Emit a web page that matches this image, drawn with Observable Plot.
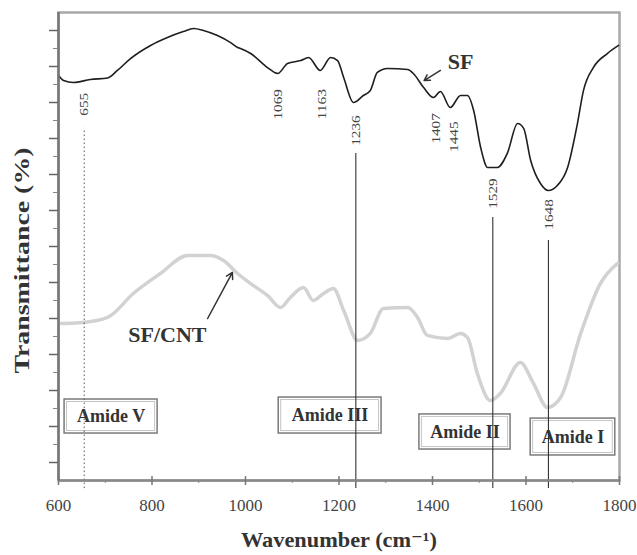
<!DOCTYPE html>
<html>
<head>
<meta charset="utf-8">
<script src="https://cdn.jsdelivr.net/npm/d3@7"></script>
<script src="https://cdn.jsdelivr.net/npm/@observablehq/plot@0.6"></script>
<style>
  html, body { margin: 0; padding: 0; background: #fff; }
</style>
</head>
<body>
<div id="chart"></div>
<script>
// ---- Data ----
// SF spectrum (black)
const sfWavenumber = [600, 611, 632, 668, 705, 726, 754, 797, 833, 867, 889, 910, 940, 968, 983, 989, 1011, 1017, 1047, 1069, 1090, 1118, 1135, 1160, 1182, 1197, 1210, 1231, 1252, 1267, 1282, 1304, 1347, 1359, 1381, 1402, 1417, 1438, 1460, 1475, 1488, 1503, 1518, 1539, 1560, 1582, 1595, 1610, 1631, 1648, 1667, 1689, 1710, 1723, 1744, 1774, 1798];
const sfTransmittance = [22.5, 22.22, 22.11, 22.28, 22.36, 22.78, 23.44, 24.17, 24.61, 24.94, 25.11, 25.0, 24.72, 24.33, 24.06, 24.0, 23.72, 23.61, 22.94, 22.61, 23.17, 23.33, 23.5, 22.78, 23.5, 23.33, 22.39, 21.0, 21.39, 21.67, 22.67, 22.89, 22.83, 22.61, 21.83, 21.28, 21.61, 20.72, 21.39, 21.39, 20.56, 18.5, 17.39, 17.39, 18.17, 19.83, 19.56, 17.78, 16.5, 16.11, 16.39, 17.39, 19.83, 21.67, 22.94, 23.72, 24.17];
// SF/CNT spectrum (light grey)
const cntWavenumber = [600, 653, 705, 760, 818, 876, 925, 953, 983, 1011, 1047, 1075, 1096, 1124, 1145, 1167, 1188, 1210, 1240, 1267, 1295, 1347, 1368, 1389, 1432, 1460, 1475, 1496, 1524, 1545, 1588, 1616, 1646, 1674, 1717, 1759, 1796];
const cntTransmittance = [8.72, 8.78, 9.06, 10.39, 11.5, 12.5, 12.5, 12.22, 11.5, 10.94, 10.28, 9.61, 10.17, 10.72, 10.0, 10.39, 10.67, 9.44, 7.78, 8.17, 9.56, 9.61, 9.06, 8.06, 7.89, 8.17, 7.94, 5.94, 4.44, 4.83, 6.56, 5.39, 4.06, 4.61, 8.17, 10.94, 12.06];

// Peak labels
const peakWavenumbers = [655, 1069, 1163, 1236, 1407, 1445, 1529, 1648];
const peakLabelY = [20.9, 20.9, 20.9, 19.44, 19.56, 19.1, 15.94, 14.78];
// Marker lines (wavenumber, top of line); 655 is dotted
const lineWavenumbers = [655, 1236, 1529, 1648];
const lineTop = [19.56, 18.17, 14.61, 13.33];
const lineDashed = [true, false, false, false];

// Amide band boxes
const amideLabels = ["Amide V", "Amide III", "Amide II", "Amide I"];
const amideX1 = [613, 1071, 1372, 1610];
const amideX2 = [812, 1291, 1567, 1791];
const amideY1 = [2.61, 2.61, 1.72, 1.39];
const amideY2 = [4.5, 4.61, 3.67, 3.44];

// Series labels with arrows
const seriesNames = ["SF", "SF/CNT"];
const seriesLabelX = [1460, 833];
const seriesLabelY = [23.28, 8.06];
const arrowX1 = [1417, 919];
const arrowY1 = [22.78, 9.0];
const arrowX2 = [1382, 972];
const arrowY2 = [22.22, 11.56];

// Axis ticks
const xMajor = [600, 800, 1000, 1200, 1400, 1600, 1800];
const xMinor = [700, 900, 1100, 1300, 1500, 1700];
const yMajor = [1, 3, 5, 7, 9, 11, 13, 15, 17, 19, 21, 23, 25];
const yMinor = [2, 4, 6, 8, 10, 12, 14, 16, 18, 20, 22, 24];

const yTitle = "Transmittance (%)";
const xTitle = "Wavenumber (cm⁻¹)";

// ---- Tables built from arrays ----
const sf = sfWavenumber.map((w, i) => ({w, t: sfTransmittance[i]}));
const cnt = cntWavenumber.map((w, i) => ({w, t: cntTransmittance[i]}));
const peaks = peakWavenumbers.map((w, i) => ({w, y: peakLabelY[i], label: String(w)}));
const lines = lineWavenumbers.map((w, i) => ({w, top: lineTop[i], dashed: lineDashed[i]}));
const amides = amideLabels.map((label, i) => ({label, x1: amideX1[i], x2: amideX2[i], y1: amideY1[i], y2: amideY2[i]}));
const names = seriesNames.map((name, i) => ({name, x: seriesLabelX[i], y: seriesLabelY[i], x1: arrowX1[i], y1: arrowY1[i], x2: arrowX2[i], y2: arrowY2[i]}));

const serif = "'Liberation Serif', 'DejaVu Serif', 'Times New Roman', serif";

const chart = Plot.plot({
  width: 637,
  height: 555,
  marginLeft: 58,
  marginRight: 18,
  marginTop: 12,
  marginBottom: 75,
  x: {domain: [600, 1800]},
  y: {domain: [0, 26]},
  style: {fontFamily: serif, background: "#fff", color: "#333"},
  marks: [
    // Frame
    Plot.frame({stroke: "#a8a8a8", strokeWidth: 2.5}),
    // SF/CNT (grey)
    Plot.line(cnt, {x: "w", y: "t", stroke: "#d2d2d2", strokeWidth: 3.5, curve: "monotone-x"}),
    // SF (black)
    Plot.line(sf, {x: "w", y: "t", stroke: "#1e1e1e", strokeWidth: 1.6, curve: "monotone-x"}),
    // Amide boxes (double border)
    Plot.rect(amides, {x1: "x1", x2: "x2", y1: "y1", y2: "y2", fill: "#fff", stroke: "#7a7a7a", strokeWidth: 1.5}),
    Plot.rect(amides, {x1: "x1", x2: "x2", y1: "y1", y2: "y2", inset: 2.5, fill: "none", stroke: "#c4c4c4", strokeWidth: 1}),
    Plot.text(amides, {x: d => (d.x1 + d.x2) / 2, y: d => (d.y1 + d.y2) / 2, text: "label", fontSize: 18, fontWeight: "bold", fill: "#333"}),
    // Marker lines
    Plot.ruleX(lines.filter(d => d.dashed), {x: "w", y1: -0.45, y2: "top", stroke: "#555", strokeWidth: 1, strokeDasharray: "1.5,2.5"}),
    Plot.ruleX(lines.filter(d => !d.dashed), {x: "w", y1: -0.45, y2: "top", stroke: "#333", strokeWidth: 1.1}),
    // Peak labels
    Plot.text(peaks, {x: "w", y: "y", text: "label", rotate: -90, fontSize: 13, fill: "#444"}),
    // Series labels and arrows
    Plot.text(names, {x: "x", y: "y", text: "name", fontSize: 22, fontWeight: "bold", fill: "#333"}),
    Plot.arrow(names, {x1: "x1", y1: "y1", x2: "x2", y2: "y2", stroke: "#333", strokeWidth: 1.5, headLength: 7}),
    // Axes lines
    Plot.ruleY([0], {stroke: "#8a8a8a", strokeWidth: 2.5}),
    Plot.ruleX([600], {stroke: "#777", strokeWidth: 2.5}),
    // X ticks
    Plot.axisX({ticks: xMajor, tickSize: 5, tickPadding: 13, fontSize: 17, tickFormat: d => String(d), label: null, stroke: "#777", fill: "#444", strokeWidth: 1.5}),
    Plot.axisX({ticks: xMinor, tickSize: 3, tickFormat: () => "", label: null, stroke: "#888"}),
    Plot.ruleX(xMajor, {y1: 0, y2: 0.22, stroke: "#777", strokeWidth: 1.5}),
    // Y ticks (no labels)
    Plot.axisY({ticks: yMajor, tickSize: 9, tickFormat: () => "", label: null, stroke: "#666", strokeWidth: 1.5}),
    Plot.axisY({ticks: yMinor, tickSize: 5, tickFormat: () => "", label: null, stroke: "#888"}),
    // Axis titles
    Plot.text([yTitle], {frameAnchor: "left", textAnchor: "middle", lineAnchor: "middle", dx: -36, dy: 14, rotate: -90, fontSize: 21, fontWeight: "bold", fill: "#333"}),
    Plot.text([xTitle], {frameAnchor: "bottom", textAnchor: "middle", lineAnchor: "middle", dy: 60, fontSize: 21, fontWeight: "bold", fill: "#333"})
  ]
});

// Stretch a few texts along their baseline, as the reference figure is stretched
const peakSet = new Set(peakWavenumbers.map(String));
d3.select(chart).selectAll("text").each(function() {
  const t = this.textContent;
  if (t === yTitle) { this.setAttribute("textLength", 226); this.setAttribute("lengthAdjust", "spacingAndGlyphs"); }
  else if (t === xTitle) { this.setAttribute("textLength", 196); this.setAttribute("lengthAdjust", "spacingAndGlyphs"); }
  else if (peakSet.has(t) && this.closest("g[aria-label='text']")) { this.setAttribute("textLength", 7.6 * t.length); this.setAttribute("lengthAdjust", "spacingAndGlyphs"); }
});
document.getElementById("chart").appendChild(chart);
</script>
</body>
</html>
